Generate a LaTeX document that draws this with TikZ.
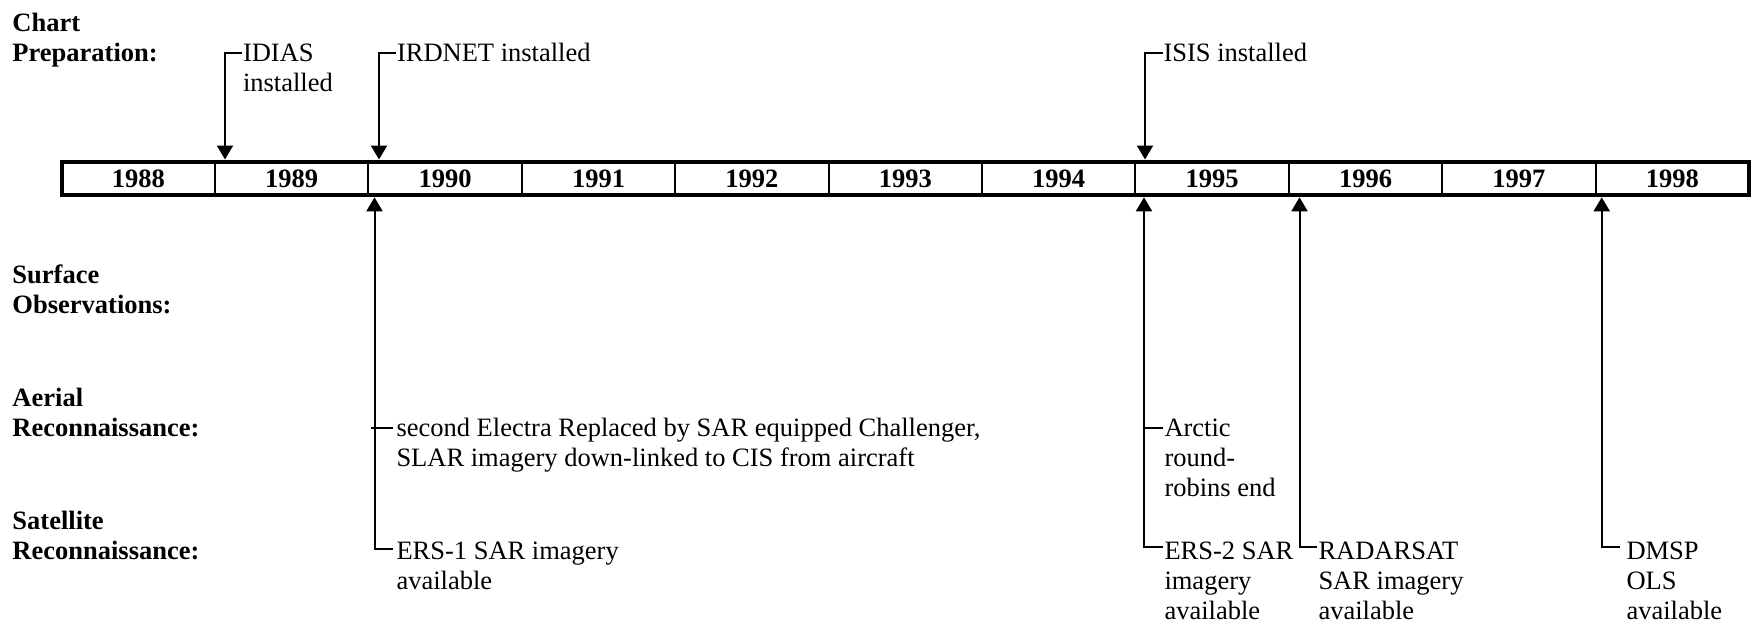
\documentclass[tikz,border=0pt]{standalone}
\usepackage{fontspec}
\setmainfont{Liberation Serif}
\usetikzlibrary{arrows.meta,calc}
\newcommand\mylines[1]{\begin{tabular}[t]{@{}l@{}}#1\end{tabular}}
\begin{document}
\begin{tikzpicture}[x=1pt,y=-1pt,
  txt/.style={inner sep=0pt,outer sep=0pt,anchor=base west,font=\fontsize{26.5}{30}\selectfont},
  hdr/.style={txt,font=\fontsize{26.5}{30}\selectfont\bfseries},
  yearcell/.style={draw,line width=2pt,minimum width=153.4pt,minimum height=33.8pt,inner sep=0pt,outer sep=0pt,font=\fontsize{26.5}{30}\selectfont\bfseries},
  conn/.style={line width=2pt},
  arr/.style={conn,-{Triangle[width=16pt,length=14pt]}}]
\useasboundingbox (0,0) rectangle (1751,626);
% timeline
\foreach \yr [count=\k from 0] in {1988,...,1998}
  \node[yearcell] (y\yr) at ({61.6+153.4*(\k+0.5)},178.4) {\yr};
\draw[line width=4pt] (y1988.north west) rectangle (y1998.south east);
% arrow tip coordinates
\coordinate (t1989) at (225,159.5);
\coordinate (t1990) at (379,159.5);
\coordinate (t1995) at (1145,159.5);
\coordinate (b1990) at (374.5,197.3);
\coordinate (b1995) at (1144,197.3);
\coordinate (b1996) at (1299.5,197.3);
\coordinate (b1998) at (1601.7,197.3);
% row headers
\node[hdr] (chart) at (12.5,31.7) {\mylines{Chart\\Preparation:}};
\node[hdr] (surf) at (12.5,283.3) {\mylines{Surface\\Observations:}};
\node[hdr] (aer) at (12.5,406.7) {\mylines{Aerial\\Reconnaissance:}};
\node[hdr] (sat) at (12.5,529) {\mylines{Satellite\\Reconnaissance:}};
% events
\node[txt] (idias) at (243,61.7) {\mylines{IDIAS\\installed}};
\node[txt] (irdnet) at (397,61.7) {IRDNET installed};
\node[txt] (isis) at (1163.5,61.7) {ISIS installed};
\node[txt] (electra) at (396.5,436.7) {\mylines{second Electra Replaced by SAR equipped Challenger,\\SLAR imagery down-linked to CIS from aircraft}};
\node[txt] (arctic) at (1164.5,436.7) {\mylines{Arctic\\round-\\robins end}};
\node[txt] (ers1) at (396.5,559) {\mylines{ERS-1 SAR imagery\\available}};
\node[txt] (ers2) at (1164.5,559) {\mylines{ERS-2 SAR\\imagery\\available}};
\node[txt] (radarsat) at (1318.5,559) {\mylines{RADARSAT\\SAR imagery\\available}};
\node[txt] (dmsp) at (1626.5,559) {\mylines{DMSP\\OLS\\available}};
% connectors above
\draw[arr] ([xshift=-1pt,yshift=8.4pt]idias.base west) -| (t1989);
\draw[arr] ([xshift=-1pt,yshift=8.4pt]irdnet.base west) -| (t1990);
\draw[arr] ([xshift=-1pt,yshift=8.4pt]isis.base west) -| (t1995);
% connectors below
\draw[arr] ([xshift=-3.5pt,yshift=10pt]ers1.base west) -| (b1990);
\draw[conn] ([xshift=-3.5pt,yshift=8.4pt]electra.base west) -- ([xshift=-3.5pt,yshift=8.4pt]electra.base west -| b1990);
\draw[arr] ([xshift=-1.5pt,yshift=12pt]ers2.base west) -| (b1995);
\draw[conn] ([xshift=-1.5pt,yshift=8.4pt]arctic.base west) -- ([xshift=-1.5pt,yshift=8.4pt]arctic.base west -| b1995);
\draw[arr] ([xshift=-1.5pt,yshift=12pt]radarsat.base west) -| (b1996);
\draw[arr] ([xshift=-6.5pt,yshift=12pt]dmsp.base west) -| (b1998);
\end{tikzpicture}
\end{document}
